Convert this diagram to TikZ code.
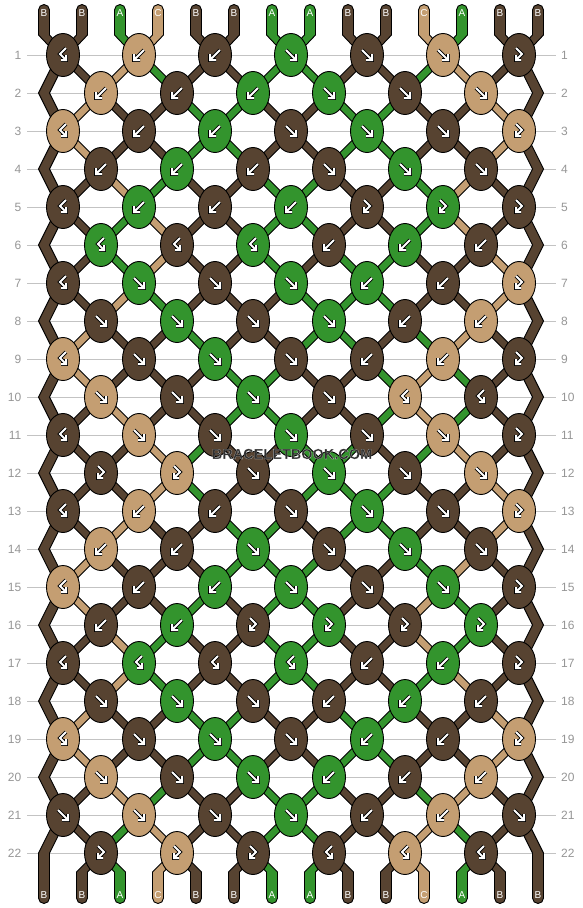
\documentclass[tikz,border=0pt]{standalone}
\usepackage{fontspec}
\setmainfont{Liberation Sans}
\usetikzlibrary{shapes.geometric}
\definecolor{colB}{RGB}{87,67,49}
\definecolor{colA}{RGB}{51,148,45}
\definecolor{colC}{RGB}{196,158,114}
\definecolor{rowline}{RGB}{195,195,195}
\definecolor{rowtxt}{RGB}{150,150,150}
\tikzset{
  strand/.style={draw=black, line width=0.9pt, line join=miter},
  knot/.style={ellipse, draw=black, line width=0.9pt, minimum width=33pt, minimum height=43pt, inner sep=0pt},
  arrout/.style={draw=black, line width=3.6pt, line cap=square, line join=miter},
  arrin/.style={draw=white, line width=2pt, line cap=square, line join=miter},
  rowlbl/.style={text=rowtxt, font=\fontsize{12}{12}\selectfont, inner sep=0pt},
  endlbl/.style={text=white, font=\fontsize{10}{10}\selectfont, inner sep=0pt},
  rowln/.style={draw=rowline, line width=1pt},
  wm/.style={font=\bfseries\fontsize{14.5}{14.5}\selectfont, inner sep=0pt}
}
\def\apf{(-5,-5) -- (4,4) (5,-1) -- (5,5) -- (-1,5)}
\def\apb{(5,-5) -- (-4,4) (-5,-1) -- (-5,5) -- (1,5)}
\def\apbf{(3,-7) -- (-3,-1) -- (2.4,4.4) (3,0) -- (3,5) -- (-2,5)}
\def\apfb{(-3,-7) -- (3,-1) -- (-2.4,4.4) (-3,0) -- (-3,5) -- (2,5)}
\newcommand\knotarrow[2]{%
  \expandafter\let\expandafter\curarrpath\csname ap#1\endcsname
  \draw[arrout, shift={(#2)}] \curarrpath;
  \draw[arrin, shift={(#2)}] \curarrpath;}
\newcommand\haloword[1]{\special{pdf:literal direct 0.18 0.18 0.18 rg 1 1 1 RG 0.055 w 2 Tr}#1\special{pdf:literal direct 0 Tr 0 0 0 rg 0 0 0 RG}}
\begin{document}
\begin{tikzpicture}[x=1pt,y=-1pt]
\useasboundingbox (0,0) rectangle (582,908);
\fill[white] (0,0) rectangle (582,908);
% position coordinates
\foreach \rr in {0,...,23} {
  \foreach \pp in {0,...,13} {
    \ifnum\rr=0 \pgfmathsetmacro\yy{35}\else
      \ifnum\rr=23 \pgfmathsetmacro\yy{872}\else
        \pgfmathsetmacro\yy{55+38*(\rr-1)}\fi\fi
    \ifnum\rr=0 \pgfmathsetmacro\xx{44+38*\pp}\else
    \ifnum\rr=23 \pgfmathsetmacro\xx{44+38*\pp}\else
    \ifodd\rr \pgfmathsetmacro\xx{63+76*floor(\pp/2)}\else
    \ifnum\pp=0 \def\xx{44}\else
    \ifnum\pp=13 \def\xx{538}\else
      \pgfmathsetmacro\xx{101+76*floor((\pp-1)/2)}\fi\fi\fi\fi\fi
    \coordinate (P-\rr-\pp) at (\xx,\yy);
  }
}
\foreach \pp in {0,...,13} {
  \coordinate (T-\pp) at (44+38*\pp,10);
  \coordinate (E-\pp) at (44+38*\pp,898);
}
% row labels and lines
\foreach \rr in {1,...,22} {
  \pgfmathsetmacro\yy{55+38*(\rr-1)}
  \node[rowlbl, anchor=east] (L-\rr) at (21.5,\yy) {\rr};
  \node[rowlbl, anchor=west] (R-\rr) at (561,\yy) {\rr};
  \draw[rowln] ([xshift=5.5pt]L-\rr.east) -- ([xshift=-5pt]R-\rr.west);
}
% top pieces
\foreach \cc [count=\pp from 0] in {B,B,A,C,B,B,A,A,B,B,C,A,B,B} {
  \filldraw[strand, fill=col\cc] ([xshift=5.5pt]P-0-\pp) -- ([xshift=5.5pt]T-\pp) arc[start angle=0, end angle=180, radius=5.5pt] -- ([xshift=-5.5pt]P-0-\pp) -- ([xshift=-5.5pt]P-1-\pp) -- ([xshift=5.5pt]P-1-\pp) -- cycle;
}
% strands between rows
\foreach \rr/\lst in {
1/{B,B,C,A,B,B,A,A,B,B,A,C,B,B},
2/{B,C,B,B,A,A,B,B,A,A,B,B,C,B},
3/{B,C,B,B,A,A,B,B,A,A,B,B,C,B},
4/{B,B,C,A,B,B,A,A,B,B,A,C,B,B},
5/{B,B,A,C,B,B,A,A,B,B,A,C,B,B},
6/{B,B,A,C,B,B,A,B,A,A,B,B,C,B},
7/{B,B,C,A,B,B,B,A,A,A,B,B,C,B},
8/{B,C,B,B,A,B,B,A,A,B,A,C,B,B},
9/{B,C,B,B,B,A,A,B,B,A,C,A,B,B},
10/{B,B,C,B,B,A,A,B,B,A,C,A,B,B},
11/{B,B,B,C,A,B,B,A,A,B,A,C,B,B},
12/{B,B,B,C,A,B,B,A,A,A,B,B,C,B},
13/{B,B,C,B,B,A,A,B,A,A,B,B,C,B},
14/{B,C,B,B,B,A,A,A,B,B,A,C,B,B},
15/{B,C,B,B,A,B,A,A,B,B,C,A,B,B},
16/{B,B,C,A,B,B,A,A,B,B,C,A,B,B},
17/{B,B,C,A,B,B,A,A,B,B,A,C,B,B},
18/{B,C,B,B,A,A,B,B,A,A,B,B,C,B},
19/{B,C,B,B,A,A,B,B,A,A,B,B,C,B},
20/{B,B,C,A,B,B,A,A,B,B,A,C,B,B},
21/{B,B,A,C,B,B,A,A,B,B,C,A,B,B}} {
  \pgfmathtruncatemacro\rn{\rr+1}
  \pgfmathtruncatemacro\rnn{\rr+2}
  \foreach \cc [count=\pp from 0] in \lst {
    \ifnum\pp=0 \def\isedge{1}\else\ifnum\pp=13 \def\isedge{1}\else\def\isedge{0}\fi\fi
    \ifnum\isedge=1
      \ifodd\rr
        \ifnum\rr<21
          \filldraw[strand, fill=col\cc] ([xshift=-5.5pt]P-\rr-\pp) -- ([xshift=-5.5pt]P-\rn-\pp) -- ([xshift=-5.5pt]P-\rnn-\pp) -- ([xshift=5.5pt]P-\rnn-\pp) -- ([xshift=5.5pt]P-\rn-\pp) -- ([xshift=5.5pt]P-\rr-\pp) -- cycle;
        \else
          \filldraw[strand, fill=col\cc] ([xshift=5.5pt]P-21-\pp) -- ([xshift=-5.5pt]P-21-\pp) -- ([xshift=-5.5pt]P-22-\pp) -- ([xshift=-5.5pt]E-\pp) arc[start angle=180, end angle=360, radius=5.5pt] -- ([xshift=5.5pt]P-22-\pp) -- cycle;
        \fi
      \fi
    \else
      \filldraw[strand, fill=col\cc] ([xshift=-5.5pt]P-\rr-\pp) -- ([xshift=-5.5pt]P-\rn-\pp) -- ([xshift=5.5pt]P-\rn-\pp) -- ([xshift=5.5pt]P-\rr-\pp) -- cycle;
    \fi
  }
}
% bottom pieces
\foreach \cc [count=\pp from 0] in {B,B,A,C,B,B,A,A,B,B,C,A,B,B} {
  \ifnum\pp>0 \ifnum\pp<13
    \filldraw[strand, fill=col\cc] ([xshift=5.5pt]P-22-\pp) -- ([xshift=-5.5pt]P-22-\pp) -- ([xshift=-5.5pt]P-23-\pp) -- ([xshift=-5.5pt]E-\pp) arc[start angle=180, end angle=360, radius=5.5pt] -- ([xshift=5.5pt]P-23-\pp) -- cycle;
  \fi\fi
}
% knots
\foreach \rr/\ks in {
1/{B/bf,C/b,B/b,A/f,B/f,C/f,B/fb},
2/{C/b,B/b,A/b,A/f,B/f,C/f},
3/{C/bf,B/b,A/b,B/f,A/f,B/f,C/fb},
4/{B/b,A/b,B/b,B/f,A/f,B/f},
5/{B/bf,A/b,B/b,A/b,B/fb,A/fb,B/fb},
6/{A/bf,B/bf,A/bf,B/b,A/b,B/b},
7/{B/bf,A/f,B/f,A/f,A/b,B/b,C/fb},
8/{B/f,A/f,B/f,A/f,B/b,C/b},
9/{C/bf,B/f,A/f,B/f,B/b,C/b,B/fb},
10/{C/f,B/f,A/f,B/f,C/bf,B/bf},
11/{B/bf,C/f,B/f,A/f,B/f,C/f,B/fb},
12/{B/fb,C/fb,B/f,A/f,B/f,C/f},
13/{B/bf,C/b,B/b,B/f,A/f,B/f,C/fb},
14/{C/b,B/b,A/f,B/f,A/f,B/f},
15/{C/bf,B/b,A/b,A/f,B/f,A/f,B/fb},
16/{B/b,A/b,B/fb,A/fb,B/fb,A/fb},
17/{B/bf,A/bf,B/bf,A/bf,B/b,A/b,B/fb},
18/{B/f,A/f,B/f,B/b,A/b,B/b},
19/{C/bf,B/f,A/f,B/f,A/b,B/b,C/fb},
20/{C/f,B/f,A/f,A/b,B/b,C/b},
21/{B/f,C/f,B/f,A/f,B/b,C/b,B/f},
22/{B/fb,C/fb,B/fb,B/bf,C/bf,B/bf}} {
  \foreach \cc/\kt [count=\ii from 0] in \ks {
    \ifodd\rr \pgfmathtruncatemacro\pp{2*\ii}\else\pgfmathtruncatemacro\pp{2*\ii+1}\fi
    \node[knot, fill=col\cc] (k-\rr-\ii) at (P-\rr-\pp) {};
    \knotarrow{\kt}{k-\rr-\ii}
  }
}
% end labels
\foreach \cc [count=\pp from 0] in {B,B,A,C,B,B,A,A,B,B,C,A,B,B} {
  \node[endlbl] (top-\pp) at (44+38*\pp,13) {\cc};
  \node[endlbl] (bot-\pp) at (44+38*\pp,895) {\cc};
}
% watermark
\node[wm] (wm) at (292,454) {\haloword{BRACELETBOOK.COM}};
\end{tikzpicture}
\end{document}
